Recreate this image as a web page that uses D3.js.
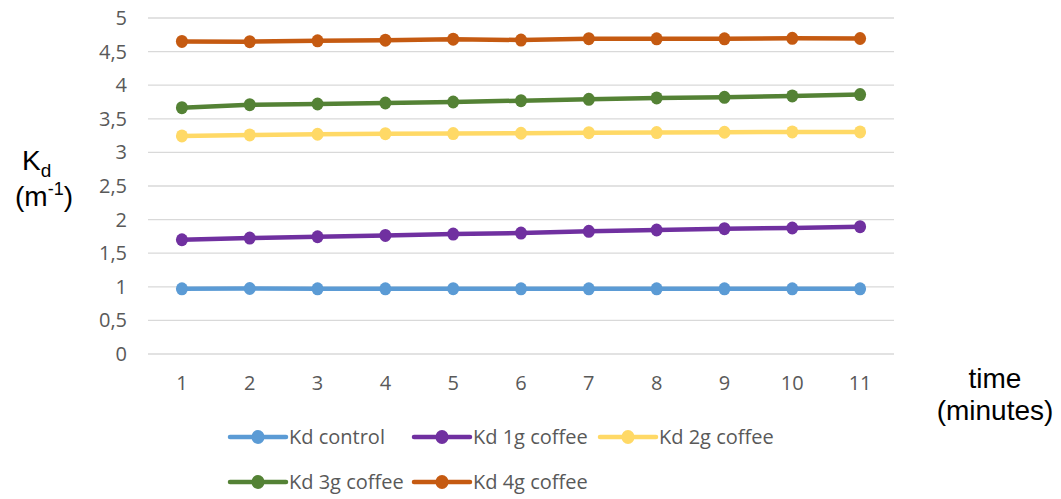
<!DOCTYPE html>
<html>
<head>
<meta charset="utf-8">
<script src="https://cdn.jsdelivr.net/npm/d3@7/dist/d3.min.js"></script>
<style>
  html, body { margin: 0; padding: 0; background: #fff; }
  svg { display: block; }
</style>
</head>
<body>
<svg id="chart" width="1061" height="499"></svg>
<script>
// Light attenuation coefficient Kd measured each minute for increasing coffee amounts
const minutes = ["1", "2", "3", "4", "5", "6", "7", "8", "9", "10", "11"];
const yTicks = [0, 0.5, 1, 1.5, 2, 2.5, 3, 3.5, 4, 4.5, 5];

const kdControl = [0.97, 0.975, 0.97, 0.97, 0.972, 0.97, 0.97, 0.97, 0.97, 0.97, 0.97];
const kd1g = [1.70, 1.725, 1.745, 1.765, 1.785, 1.80, 1.825, 1.845, 1.865, 1.875, 1.895];
const kd2g = [3.245, 3.26, 3.27, 3.278, 3.28, 3.285, 3.293, 3.295, 3.30, 3.305, 3.305];
const kd3g = [3.665, 3.71, 3.72, 3.735, 3.75, 3.77, 3.79, 3.81, 3.82, 3.84, 3.86];
const kd4g = [4.652, 4.648, 4.66, 4.67, 4.685, 4.672, 4.692, 4.69, 4.69, 4.697, 4.695];

const seriesNames = ["Kd control", "Kd 1g coffee", "Kd 2g coffee", "Kd 3g coffee", "Kd 4g coffee"];
const seriesValues = [kdControl, kd1g, kd2g, kd3g, kd4g];
const seriesColors = ["#5B9BD5", "#7030A0", "#FFD966", "#548235", "#C55A11"];

const svg = d3.select("#chart");
const plotLeft = 148, plotRight = 894, plotTop = 18, plotBottom = 354;

const x = d3.scaleBand().domain(minutes).range([plotLeft, plotRight]);
const y = d3.scaleLinear().domain([0, 5]).range([plotBottom, plotTop]);

const fmt = v => String(v).replace(".", ",");
const tickFont = "'Open Sans', 'Noto Sans', sans-serif";

// horizontal gridlines
svg.append("g")
  .selectAll("line")
  .data(yTicks)
  .join("line")
  .attr("x1", plotLeft).attr("x2", plotRight)
  .attr("y1", d => y(d)).attr("y2", d => y(d))
  .attr("stroke", "#d9d9d9")
  .attr("stroke-width", 1.3);

// y axis labels
const yAxis = d3.axisLeft(y).tickValues(yTicks).tickFormat(fmt).tickSize(0).tickPadding(0);
const yg = svg.append("g").attr("transform", `translate(${plotLeft - 21},0)`).call(yAxis);
yg.select(".domain").remove();
yg.selectAll("text")
  .attr("fill", "#595959")
  .style("font-family", tickFont)
  .style("font-size", "20px");

// x axis labels
const xAxis = d3.axisBottom(x).tickSize(0).tickPadding(0);
const xg = svg.append("g").attr("transform", `translate(0,${plotBottom + 22})`).call(xAxis);
xg.select(".domain").remove();
xg.selectAll("text")
  .attr("fill", "#595959")
  .style("font-family", tickFont)
  .style("font-size", "20px");

// series lines and markers
const line = d3.line()
  .x((d, i) => x(minutes[i]) + x.bandwidth() / 2)
  .y(d => y(d));

seriesValues.forEach((vals, s) => {
  const g = svg.append("g");
  g.append("path")
    .datum(vals)
    .attr("d", line)
    .attr("fill", "none")
    .attr("stroke", seriesColors[s])
    .attr("stroke-width", 4.5)
    .attr("stroke-linejoin", "round");
  g.selectAll("ellipse")
    .data(vals)
    .join("ellipse")
    .attr("cx", (d, i) => x(minutes[i]) + x.bandwidth() / 2)
    .attr("cy", d => y(d))
    .attr("rx", 6)
    .attr("ry", 6.5)
    .attr("fill", seriesColors[s]);
});

// axis titles
const titleFont = "'Liberation Sans', Arial, sans-serif";
const kd = svg.append("text")
  .attr("x", 22).attr("y", 170)
  .attr("fill", "#000")
  .style("font-family", titleFont)
  .style("font-size", "28px");
kd.append("tspan").text("K");
kd.append("tspan").attr("dy", 7).style("font-size", "19px").text("d");

const unit = svg.append("text")
  .attr("x", 15).attr("y", 206)
  .attr("fill", "#000")
  .style("font-family", titleFont)
  .style("font-size", "28px");
unit.append("tspan").text("(m");
unit.append("tspan").attr("dy", -11).style("font-size", "18px").text("-1");
unit.append("tspan").attr("dy", 11).text(")");

svg.append("text")
  .attr("x", 995).attr("y", 388)
  .attr("text-anchor", "middle")
  .style("font-family", titleFont)
  .style("font-size", "28px")
  .text("time");
svg.append("text")
  .attr("x", 995).attr("y", 420)
  .attr("text-anchor", "middle")
  .style("font-family", titleFont)
  .style("font-size", "28px")
  .text("(minutes)");

// legend
const legendPos = [
  { x: 230, y: 437 }, { x: 414, y: 437 }, { x: 600, y: 437 },
  { x: 230, y: 482 }, { x: 414, y: 482 }
];
const lg = svg.append("g")
  .selectAll("g")
  .data(seriesNames)
  .join("g")
  .attr("transform", (d, i) => `translate(${legendPos[i].x},${legendPos[i].y})`);
lg.append("line")
  .attr("x1", 0).attr("x2", 56).attr("y1", 0).attr("y2", 0)
  .attr("stroke", (d, i) => seriesColors[i])
  .attr("stroke-width", 4.5)
  .attr("stroke-linecap", "round");
lg.append("ellipse")
  .attr("cx", 28).attr("cy", 0).attr("rx", 6.5).attr("ry", 7)
  .attr("fill", (d, i) => seriesColors[i]);
lg.append("text")
  .attr("x", 59).attr("y", 0).attr("dy", "0.35em")
  .attr("fill", "#595959")
  .style("font-family", tickFont)
  .style("font-size", "20px")
  .text(d => d);
</script>
</body>
</html>
